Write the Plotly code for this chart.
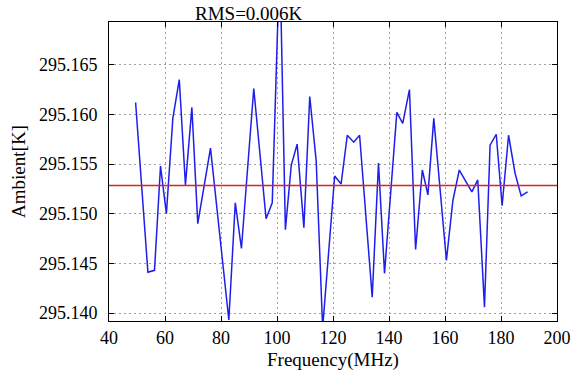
import plotly.graph_objects as go

# Ambient temperature per frequency channel
freq_mhz = [49.5, 53.9, 56.25, 58.4, 60.5, 62.8, 65.1, 67.3, 69.6, 71.7,
            76.25, 82.8, 85.1, 87.3, 91.7, 96.1, 98.3, 101.0, 103.0, 105.1,
            107.2, 109.6, 111.7, 114.0, 116.3, 120.6, 122.9, 125.1, 127.4, 129.5,
            134.0, 136.25, 138.4, 142.8, 144.9, 147.3, 149.5, 151.9, 153.9, 156.0,
            160.5, 162.8, 165.1, 169.6, 171.7, 174.1, 176.1, 178.3, 180.4, 182.7,
            185.0, 187.2, 189.5]
ambient_k = [295.1612, 295.1441, 295.1443, 295.1548, 295.1500, 295.1596, 295.1635, 295.1529, 295.1607, 295.1490,
             295.1566, 295.1393, 295.1511, 295.1465, 295.1626, 295.1495, 295.1511, 295.1760, 295.1484, 295.1549,
             295.1570, 295.1486, 295.1618, 295.1553, 295.1385, 295.1538, 295.1530, 295.1579, 295.1572, 295.1579,
             295.1416, 295.1551, 295.1440, 295.1602, 295.1591, 295.1625, 295.1464, 295.1544, 295.1519, 295.1596,
             295.1453, 295.1513, 295.1544, 295.1522, 295.1534, 295.1406, 295.1569, 295.1580, 295.1508, 295.1579,
             295.1541, 295.1518, 295.1522]

mean_level = 295.15284
rms_label = "RMS=0.006K"

x_range = [40, 200]
y_range = [295.1392, 295.1693]
y_ticks = [295.140, 295.145, 295.150, 295.155, 295.160, 295.165]
x_ticks = [40, 60, 80, 100, 120, 140, 160, 180, 200]

serif = "Liberation Serif, Times New Roman, serif"

fig = go.Figure()
fig.add_trace(go.Scatter(
    x=freq_mhz, y=ambient_k, mode="lines",
    line=dict(color="rgb(30,30,235)", width=1.5),
    showlegend=False,
))
fig.add_trace(go.Scatter(
    x=x_range, y=[mean_level, mean_level], mode="lines",
    line=dict(color="rgb(220,35,35)", width=1.5),
    showlegend=False,
))

axis_common = dict(
    showline=True, linecolor="black", linewidth=1, mirror="allticks",
    ticks="inside", ticklen=5, tickcolor="black", tickwidth=1,
    showgrid=True, gridcolor="#a0a0a0", gridwidth=1, griddash="2px,3px",
    zeroline=False, tickfont=dict(family=serif, size=18, color="black"),
)

fig.update_xaxes(
    range=x_range, tickvals=x_ticks, ticklabelstandoff=0,
    title=dict(text="Frequency(MHz)", font=dict(family=serif, size=19, color="black"), standoff=6),
    **axis_common,
)
fig.update_yaxes(
    range=y_range, tickvals=y_ticks, tickformat=".3f", ticklabelstandoff=7,
    title=dict(text="Ambient[K]", font=dict(family=serif, size=19, color="black"), standoff=8),
    **axis_common,
)

fig.add_annotation(
    text=rms_label, x=70, xref="x", xanchor="left",
    y=1, yref="paper", yanchor="bottom", yshift=-4,
    showarrow=False, font=dict(family=serif, size=19, color="black"),
)

fig.update_layout(
    width=572, height=371,
    margin=dict(l=109, r=15, t=22, b=50, autoexpand=False),
    plot_bgcolor="white", paper_bgcolor="white",
)

fig.write_html("out.html")
